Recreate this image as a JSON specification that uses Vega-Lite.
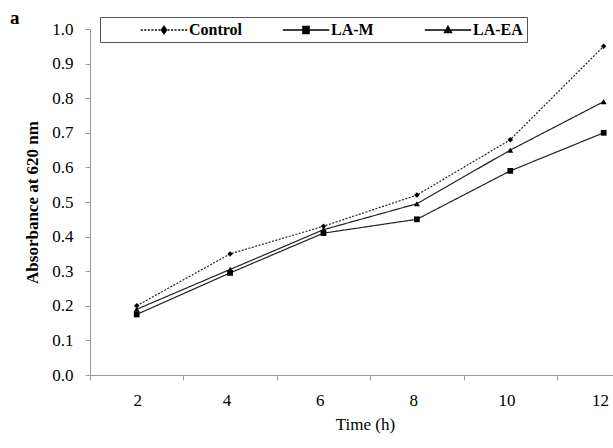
{
  "$schema": "https://vega.github.io/schema/vega-lite/v6.json",
  "width": 523,
  "height": 346,
  "autosize": {"type": "none"},
  "padding": {"left": 90, "top": 29, "right": 0, "bottom": 73},
  "background": "white",
  "title": {"text": "a", "anchor": "start", "frame": "group", "dx": -80, "dy": 18, "offset": 7, "font": "Liberation Serif", "fontSize": 19, "fontWeight": "bold", "color": "black"},
  "data": {
    "values": [
      {"series": "Control", "time": 2, "absorbance": 0.2},
      {"series": "Control", "time": 4, "absorbance": 0.35},
      {"series": "Control", "time": 6, "absorbance": 0.43},
      {"series": "Control", "time": 8, "absorbance": 0.52},
      {"series": "Control", "time": 10, "absorbance": 0.68},
      {"series": "Control", "time": 12, "absorbance": 0.95},
      {"series": "LA-M", "time": 2, "absorbance": 0.175},
      {"series": "LA-M", "time": 4, "absorbance": 0.295},
      {"series": "LA-M", "time": 6, "absorbance": 0.41},
      {"series": "LA-M", "time": 8, "absorbance": 0.45},
      {"series": "LA-M", "time": 10, "absorbance": 0.59},
      {"series": "LA-M", "time": 12, "absorbance": 0.7},
      {"series": "LA-EA", "time": 2, "absorbance": 0.19},
      {"series": "LA-EA", "time": 4, "absorbance": 0.305},
      {"series": "LA-EA", "time": 6, "absorbance": 0.42},
      {"series": "LA-EA", "time": 8, "absorbance": 0.495},
      {"series": "LA-EA", "time": 10, "absorbance": 0.65},
      {"series": "LA-EA", "time": 12, "absorbance": 0.79}
    ]
  },
  "encoding": {
    "x": {
      "field": "time", "type": "quantitative",
      "scale": {"domain": [1, 12.2], "nice": false, "zero": false},
      "axis": {
        "values": [1, 3, 5, 7, 9, 11],
        "labelExpr": "'' + (datum.value + 1)",
        "labelOffset": 43,
        "grid": false,
        "tickSize": 5, "tickColor": "#999", "domainColor": "#999",
        "labelPadding": 12, "labelFont": "Liberation Serif", "labelFontSize": 17, "labelColor": "black",
        "title": "Time (h)", "titleFont": "Liberation Serif", "titleFontSize": 17, "titleFontWeight": "normal", "titleColor": "black",
        "titlePadding": 8, "titleX": 275
      }
    },
    "y": {
      "field": "absorbance", "type": "quantitative",
      "scale": {"domain": [0, 1], "nice": false},
      "axis": {
        "values": [0, 0.1, 0.2, 0.3, 0.4, 0.5, 0.6, 0.7, 0.8, 0.9, 1.0],
        "format": ".1f",
        "labelOverlap": false,
        "grid": false,
        "tickSize": 5, "tickColor": "#999", "domainColor": "#999",
        "labelPadding": 12, "labelFont": "Liberation Serif", "labelFontSize": 17, "labelColor": "black",
        "title": "Absorbance at 620 nm", "titleFont": "Liberation Serif", "titleFontSize": 17, "titleFontWeight": "bold", "titleColor": "black",
        "titlePadding": 10
      }
    }
  },
  "layer": [
    {
      "mark": {"type": "line", "strokeWidth": 1.2, "color": "#222"},
      "encoding": {
        "strokeDash": {
          "field": "series", "type": "nominal",
          "scale": {"domain": ["Control", "LA-M", "LA-EA"], "range": [[2, 1.5], [1, 0], [1, 0]]},
          "legend": null
        }
      }
    },
    {
      "mark": {"type": "point", "filled": true, "color": "black", "opacity": 1},
      "encoding": {
        "shape": {
          "field": "series", "type": "nominal",
          "scale": {"domain": ["Control", "LA-M", "LA-EA"], "range": ["diamond", "square", "triangle-up"]},
          "legend": null
        },
        "size": {
          "field": "series", "type": "nominal",
          "scale": {"domain": ["Control", "LA-M", "LA-EA"], "range": [30, 36, 40]},
          "legend": null
        }
      }
    },
    {
      "transform": [{"filter": "false"}],
      "mark": {"type": "point", "filled": false, "stroke": "black", "fill": "black", "strokeWidth": 1, "size": 256, "opacity": 1},
      "encoding": {
        "shape": {
          "field": "series", "type": "nominal",
          "scale": {
            "domain": ["Control", "LA-M", "LA-EA"],
            "range": [
              "M-2.9,0H-2.65M-2.46,0H-2.21M-2.02,0H-1.77M-1.58,0H-1.33M-1.14,0H-0.89M-0.7,0H-0.45M0.45,0H0.7M0.89,0H1.14M1.33,0H1.58M1.77,0H2.02M2.21,0H2.46M2.65,0H2.9M0,-0.45L0.31,0L0,0.45L-0.31,0Z",
              "M-2.9,0H2.9M-0.38,-0.44H0.38V0.44H-0.38Z",
              "M-2.9,0H2.9M0,-0.45L0.42,0.3H-0.42Z"
            ]
          },
          "legend": {
            "title": null,
            "orient": "none", "legendX": 10, "legendY": -12, "direction": "horizontal",
            "padding": 4, "strokeColor": "#555", "fillColor": "white",
            "symbolSize": 256, "symbolOffset": 51, "labelOffset": 16, "columnPadding": 3,
            "gridAlign": "all",
            "labelFont": "Liberation Serif", "labelFontSize": 16, "labelFontWeight": "bold", "labelColor": "black",
            "encode": {"symbols": {"update": {"stroke": {"value": "black"}, "strokeWidth": {"value": 1}, "fill": {"value": "black"}, "opacity": {"value": 1}}}}
          }
        }
      }
    }
  ],
  "resolve": {"scale": {"shape": "independent", "strokeDash": "independent", "size": "independent"}},
  "config": {
    "view": {"stroke": null}
  }
}
